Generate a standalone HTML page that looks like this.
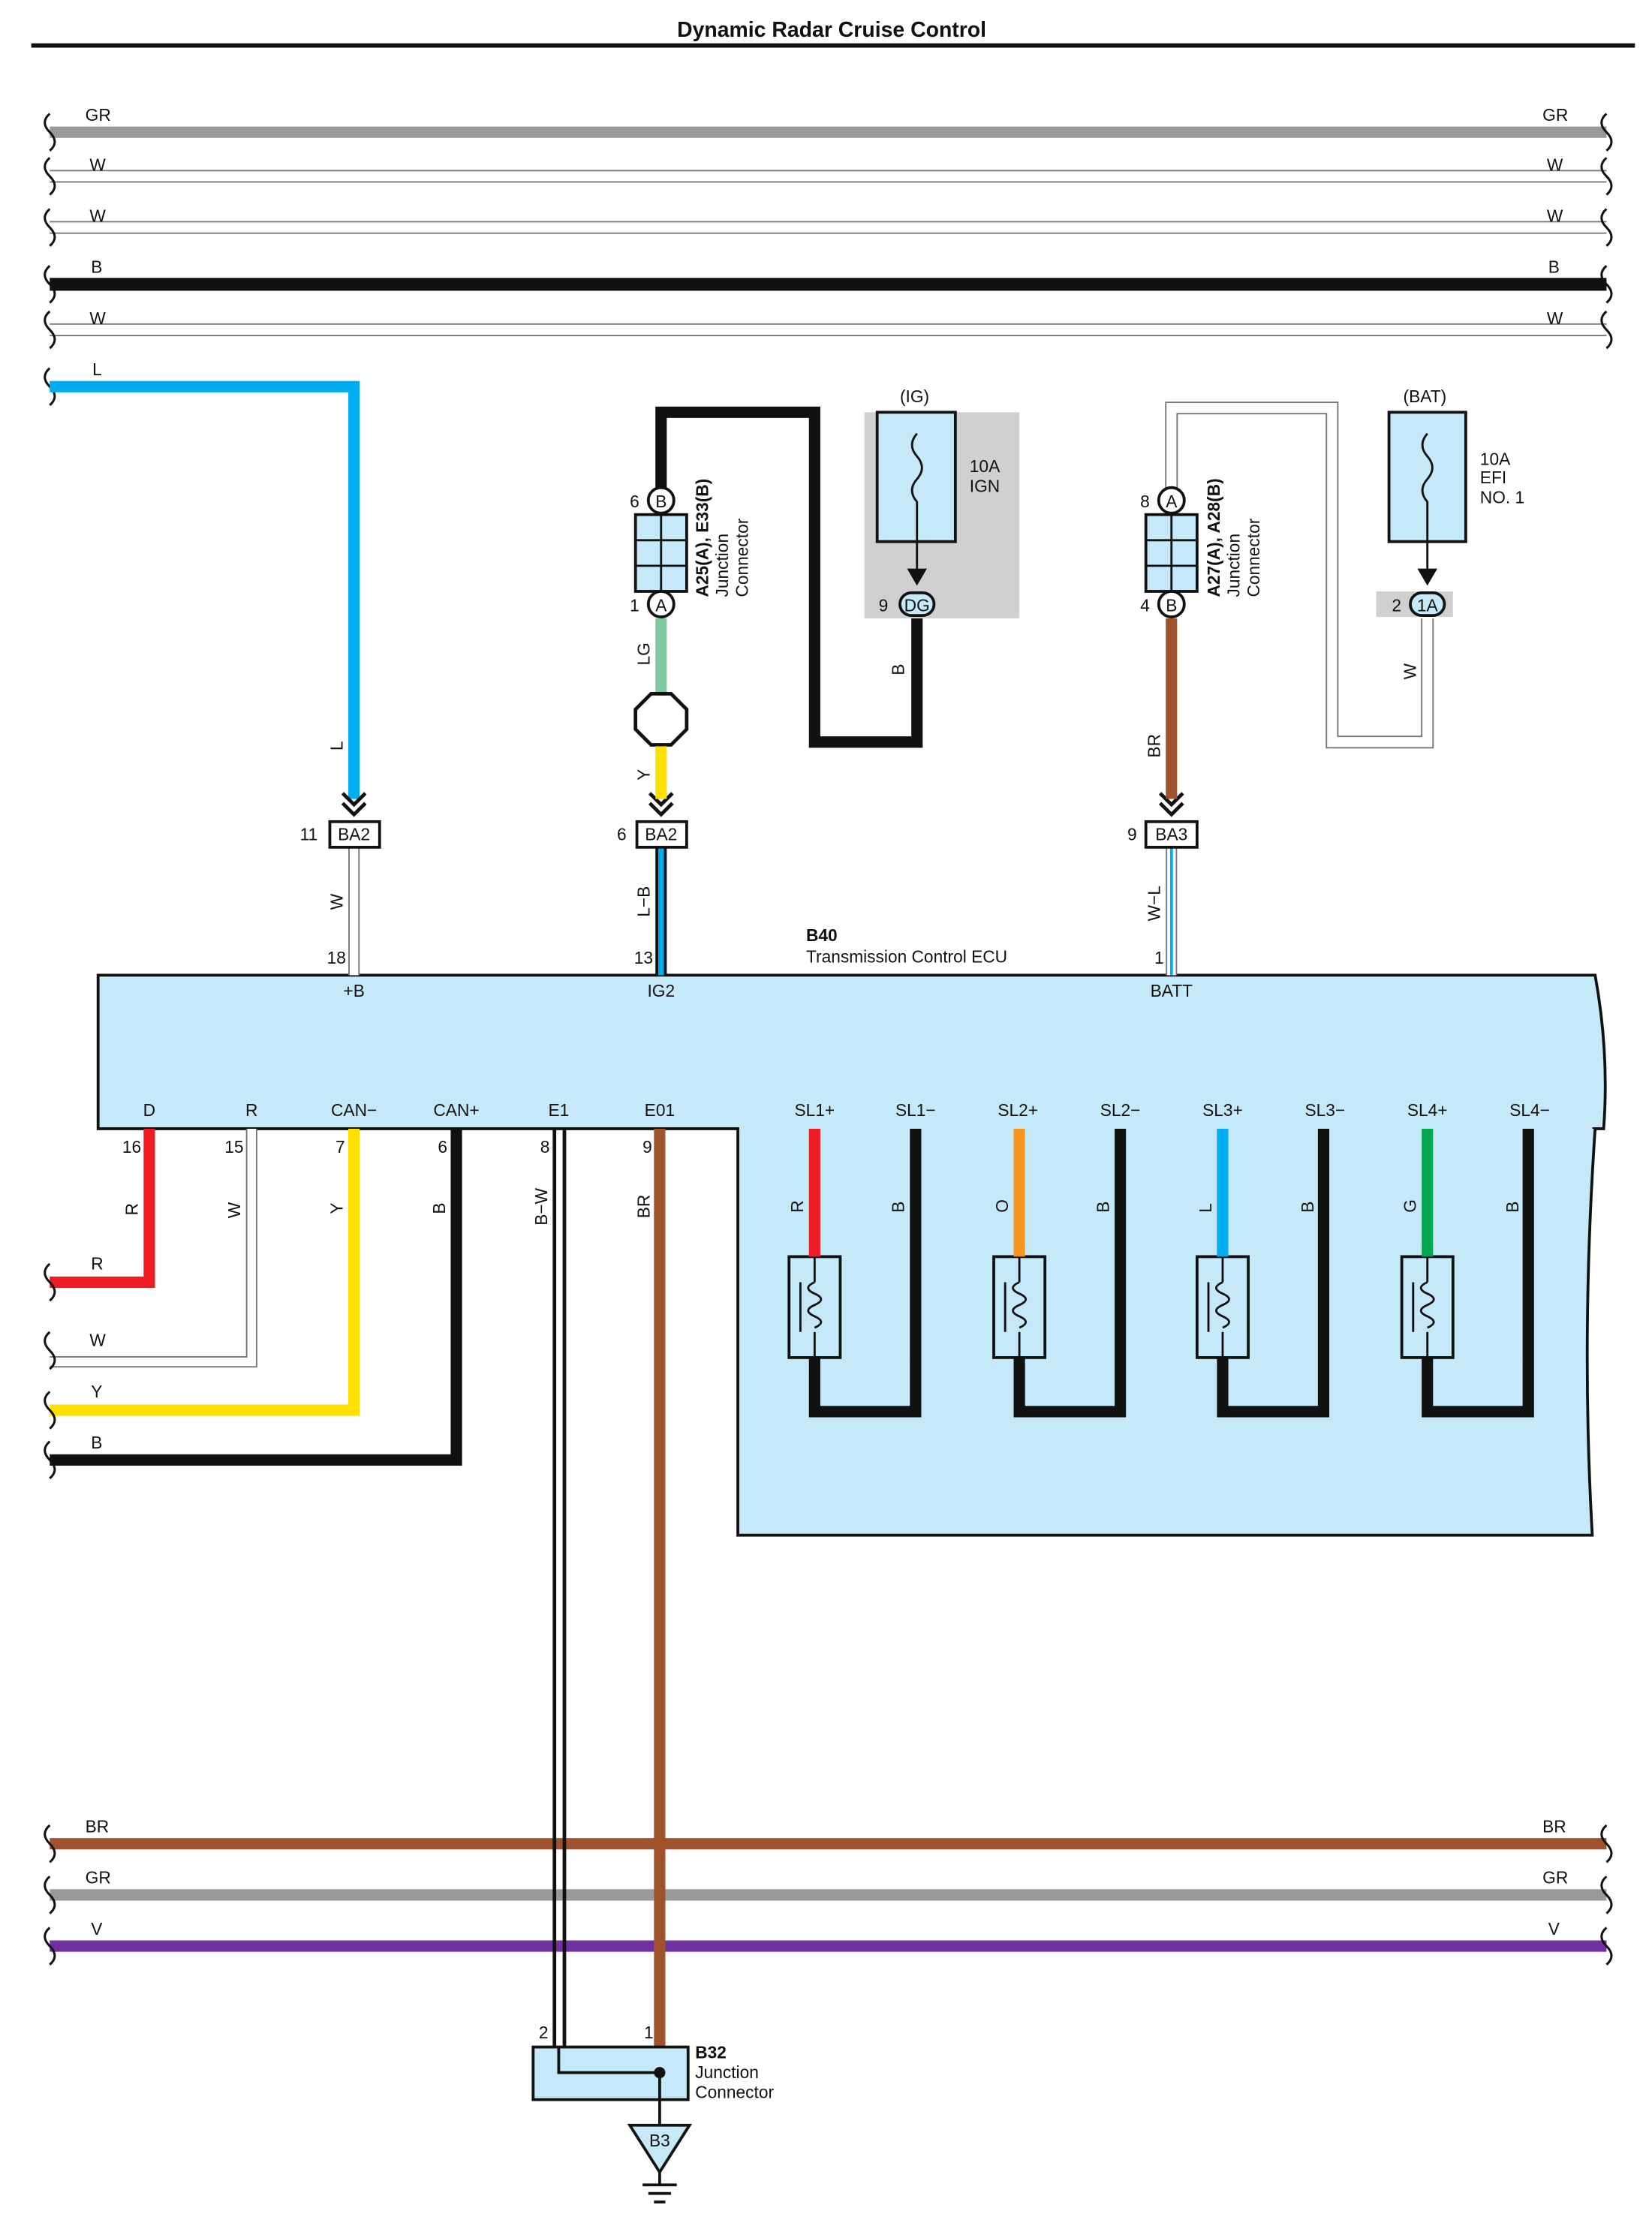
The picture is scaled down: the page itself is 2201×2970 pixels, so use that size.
<!DOCTYPE html>
<html><head><meta charset="utf-8"><style>
html,body{margin:0;padding:0;background:#fff}
svg{display:block}
text{font-family:"Liberation Sans",sans-serif;font-size:12px;fill:#111}
</style></head><body>
<svg width="2201" height="2970" viewBox="0 0 1162 1568" preserveAspectRatio="none" xmlns="http://www.w3.org/2000/svg">
<defs>
<g id="brk"><path d="M0,-13 q-7,6 0,13 q7,7 0,13" fill="none" stroke="#111" stroke-width="1.6"/></g>
</defs>
<text x="585" y="26" text-anchor="middle" style="font-size:15px;font-weight:bold">Dynamic Radar Cruise Control</text>
<line x1="22" y1="32" x2="1150" y2="32" stroke="#111" stroke-width="3"/>

<g fill="none">
<line x1="35" y1="93" x2="1130" y2="93" stroke="#999" stroke-width="8"/>
<line x1="35" y1="124" x2="1130" y2="124" stroke="#777" stroke-width="9"/><line x1="35" y1="124" x2="1130" y2="124" stroke="#fff" stroke-width="7"/>
<line x1="35" y1="160" x2="1130" y2="160" stroke="#777" stroke-width="9"/><line x1="35" y1="160" x2="1130" y2="160" stroke="#fff" stroke-width="7"/>
<line x1="35" y1="200" x2="1130" y2="200" stroke="#111" stroke-width="9"/>
<line x1="35" y1="232" x2="1130" y2="232" stroke="#777" stroke-width="9"/><line x1="35" y1="232" x2="1130" y2="232" stroke="#fff" stroke-width="7"/>
</g>
<g>
<use href="#brk" x="35" y="93"/><use href="#brk" x="1130" y="93"/>
<use href="#brk" x="35" y="124"/><use href="#brk" x="1130" y="124"/>
<use href="#brk" x="35" y="160"/><use href="#brk" x="1130" y="160"/>
<use href="#brk" x="35" y="200"/><use href="#brk" x="1130" y="200"/>
<use href="#brk" x="35" y="232"/><use href="#brk" x="1130" y="232"/>
<use href="#brk" x="35" y="272"/>
</g>
<text x="60" y="85">GR</text><text x="1085" y="85">GR</text>
<text x="63" y="120">W</text><text x="1088" y="120">W</text>
<text x="63" y="156">W</text><text x="1088" y="156">W</text>
<text x="64" y="192">B</text><text x="1089" y="192">B</text>
<text x="63" y="228">W</text><text x="1088" y="228">W</text>
<text x="65" y="264">L</text>

<path d="M35,272 H249 V562" fill="none" stroke="#00aeef" stroke-width="8"/>
<text transform="translate(241,528) rotate(-90)">L</text>

<path d="M69,686 H1122 q10,55 6,108 H69 Z" fill="#c6e9f9" stroke="#111" stroke-width="2"/>
<path d="M519,794 V1080 H1120 q-8,-140 2,-286" fill="#c6e9f9" stroke="#111" stroke-width="2"/>
<rect x="520" y="792" width="600" height="4" fill="#c6e9f9"/>
<text x="567" y="662" style="font-weight:bold">B40</text>
<text x="567" y="677">Transmission Control ECU</text>
<text x="249" y="701" text-anchor="middle">+B</text>
<text x="465" y="701" text-anchor="middle">IG2</text>
<text x="824" y="701" text-anchor="middle">BATT</text>
<g text-anchor="middle">
<text x="105" y="785">D</text><text x="177" y="785">R</text><text x="249" y="785">CAN−</text><text x="321" y="785">CAN+</text>
<text x="393" y="785">E1</text><text x="464" y="785">E01</text>
<text x="573" y="785">SL1+</text><text x="644" y="785">SL1−</text><text x="716" y="785">SL2+</text><text x="788" y="785">SL2−</text>
<text x="860" y="785">SL3+</text><text x="932" y="785">SL3−</text><text x="1004" y="785">SL4+</text><text x="1076" y="785">SL4−</text>
</g>

<line x1="249" y1="596" x2="249" y2="686" stroke="#777" stroke-width="8"/><line x1="249" y1="596" x2="249" y2="686" stroke="#fff" stroke-width="6"/>
<line x1="465" y1="596" x2="465" y2="686" stroke="#111" stroke-width="8"/><line x1="465" y1="596" x2="465" y2="686" stroke="#00aeef" stroke-width="4"/>
<line x1="824" y1="596" x2="824" y2="686" stroke="#777" stroke-width="8"/><line x1="824" y1="596" x2="824" y2="686" stroke="#fff" stroke-width="6"/><line x1="824" y1="596" x2="824" y2="686" stroke="#00aeef" stroke-width="2"/>
<text transform="translate(241,640) rotate(-90)">W</text>
<text transform="translate(457,645) rotate(-90)">L−B</text>
<text transform="translate(816,648) rotate(-90)">W−L</text>
<text x="230" y="678">18</text><text x="446" y="678">13</text><text x="812" y="678">1</text>

<g fill="#fff" stroke="#111" stroke-width="2">
<rect x="232" y="578" width="35" height="18"/><rect x="448" y="578" width="35" height="18"/><rect x="806" y="578" width="36" height="18"/>
</g>
<text x="249" y="591" text-anchor="middle">BA2</text><text x="465" y="591" text-anchor="middle">BA2</text><text x="824" y="591" text-anchor="middle">BA3</text>
<text x="211" y="591">11</text><text x="434" y="591">6</text><text x="793" y="591">9</text>
<g fill="none" stroke="#111" stroke-width="2.5">
<path d="M241,558 l8,8 l8,-8 M241,565 l8,8 l8,-8"/>
<path d="M457,558 l8,8 l8,-8 M457,565 l8,8 l8,-8"/>
<path d="M816,558 l8,8 l8,-8 M816,565 l8,8 l8,-8"/>
</g>

<rect x="608" y="290" width="109" height="145" fill="#d0d0d0"/>
<rect x="617" y="290" width="55" height="91" fill="#c6e9f9" stroke="#111" stroke-width="2"/>
<path d="M645,305 q-7,8 0,16 q7,8 0,16 q-7,8 0,16 V408" fill="none" stroke="#111" stroke-width="1.5"/>
<path d="M638,400 l7,12 l7,-12 Z" fill="#111"/>
<text x="633" y="283">(IG)</text>
<text x="682" y="332">10A</text><text x="682" y="346">IGN</text>
<path d="M465,352 V290 H573 V522 H645 V435" fill="none" stroke="#111" stroke-width="8"/>
<text transform="translate(636,475) rotate(-90)">B</text>
<rect x="633" y="417" width="24" height="16" rx="8" fill="#c6e9f9" stroke="#111" stroke-width="2"/>
<text x="645" y="430" text-anchor="middle">DG</text><text x="618" y="430">9</text>

<line x1="465" y1="435" x2="465" y2="490" stroke="#7fc8a0" stroke-width="8"/>
<text transform="translate(457,468) rotate(-90)">LG</text>
<polygon points="458,488 472,488 483,499 483,513 472,524 458,524 447,513 447,499" fill="#fff" stroke="#111" stroke-width="2.5"/>
<line x1="465" y1="525" x2="465" y2="562" stroke="#ffe000" stroke-width="8"/>
<text transform="translate(457,549) rotate(-90)">Y</text>

<rect x="447" y="362" width="36" height="54" fill="#c6e9f9" stroke="#111" stroke-width="2"/>
<g stroke="#111" stroke-width="1.5"><line x1="447" y1="380" x2="483" y2="380"/><line x1="447" y1="398" x2="483" y2="398"/><line x1="465" y1="362" x2="465" y2="416"/></g>
<circle cx="465" cy="352" r="9" fill="#fff" stroke="#111" stroke-width="2"/><text x="465" y="357" text-anchor="middle">B</text>
<circle cx="465" cy="425" r="9" fill="#fff" stroke="#111" stroke-width="2"/><text x="465" y="430" text-anchor="middle">A</text>
<text x="443" y="357">6</text><text x="443" y="430">1</text>
<text transform="translate(498,420) rotate(-90)" style="font-weight:bold">A25(A), E33(B)</text>
<text transform="translate(512,420) rotate(-90)">Junction</text>
<text transform="translate(526,420) rotate(-90)">Connector</text>

<path d="M824,352 V287 H937 V522 H1004 V435" fill="none" stroke="#777" stroke-width="9"/>
<path d="M824,352 V287 H937 V522 H1004 V435" fill="none" stroke="#fff" stroke-width="7"/>
<text transform="translate(996,478) rotate(-90)">W</text>
<rect x="968" y="416" width="54" height="18" fill="#d0d0d0"/>
<rect x="977" y="290" width="54" height="91" fill="#c6e9f9" stroke="#111" stroke-width="2"/>
<path d="M1004,305 q-7,8 0,16 q7,8 0,16 q-7,8 0,16 V408" fill="none" stroke="#111" stroke-width="1.5"/>
<path d="M997,400 l7,12 l7,-12 Z" fill="#111"/>
<text x="987" y="283">(BAT)</text>
<text x="1041" y="327">10A</text><text x="1041" y="340">EFI</text><text x="1041" y="354">NO. 1</text>
<rect x="992" y="417" width="24" height="16" rx="8" fill="#c6e9f9" stroke="#111" stroke-width="2"/>
<text x="1004" y="430" text-anchor="middle">1A</text><text x="979" y="430">2</text>

<line x1="824" y1="435" x2="824" y2="562" stroke="#a0522d" stroke-width="8"/>
<text transform="translate(816,533) rotate(-90)">BR</text>
<rect x="806" y="362" width="36" height="54" fill="#c6e9f9" stroke="#111" stroke-width="2"/>
<g stroke="#111" stroke-width="1.5"><line x1="806" y1="380" x2="842" y2="380"/><line x1="806" y1="398" x2="842" y2="398"/><line x1="824" y1="362" x2="824" y2="416"/></g>
<circle cx="824" cy="352" r="9" fill="#fff" stroke="#111" stroke-width="2"/><text x="824" y="357" text-anchor="middle">A</text>
<circle cx="824" cy="425" r="9" fill="#fff" stroke="#111" stroke-width="2"/><text x="824" y="430" text-anchor="middle">B</text>
<text x="802" y="357">8</text><text x="802" y="430">4</text>
<text transform="translate(858,420) rotate(-90)" style="font-weight:bold">A27(A), A28(B)</text>
<text transform="translate(872,420) rotate(-90)">Junction</text>
<text transform="translate(886,420) rotate(-90)">Connector</text>

<path d="M105,794 V902 H35" fill="none" stroke="#ee1c25" stroke-width="8"/>
<path d="M177,794 V958 H35" fill="none" stroke="#777" stroke-width="8"/><path d="M177,794 V958 H35" fill="none" stroke="#fff" stroke-width="6"/>
<path d="M249,794 V992 H35" fill="none" stroke="#ffe000" stroke-width="8"/>
<path d="M321,794 V1027 H35" fill="none" stroke="#111" stroke-width="8"/>
<use href="#brk" x="35" y="902"/><use href="#brk" x="35" y="950"/><use href="#brk" x="35" y="992"/><use href="#brk" x="35" y="1027"/>
<text x="64" y="893">R</text><text x="63" y="947">W</text><text x="64" y="983">Y</text><text x="64" y="1019">B</text>
<text x="86" y="811">16</text><text x="158" y="811">15</text><text x="236" y="811">7</text><text x="308" y="811">6</text><text x="380" y="811">8</text><text x="452" y="811">9</text>
<text transform="translate(97,855) rotate(-90)">R</text>
<text transform="translate(169,857) rotate(-90)">W</text>
<text transform="translate(241,854) rotate(-90)">Y</text>
<text transform="translate(313,854) rotate(-90)">B</text>
<text transform="translate(385,862) rotate(-90)">B−W</text>
<text transform="translate(457,857) rotate(-90)">BR</text>

<line x1="35" y1="1297" x2="1130" y2="1297" stroke="#a0522d" stroke-width="8"/>
<line x1="35" y1="1333" x2="1130" y2="1333" stroke="#999" stroke-width="8"/>
<line x1="35" y1="1369" x2="1130" y2="1369" stroke="#7030a0" stroke-width="8"/>
<use href="#brk" x="35" y="1297"/><use href="#brk" x="1130" y="1297"/>
<use href="#brk" x="35" y="1333"/><use href="#brk" x="1130" y="1333"/>
<use href="#brk" x="35" y="1369"/><use href="#brk" x="1130" y="1369"/>
<text x="60" y="1289">BR</text><text x="1085" y="1289">BR</text>
<text x="60" y="1325">GR</text><text x="1085" y="1325">GR</text>
<text x="64" y="1361">V</text><text x="1089" y="1361">V</text>

<line x1="390" y1="794" x2="390" y2="1440" stroke="#111" stroke-width="2.5"/>
<line x1="397" y1="794" x2="397" y2="1440" stroke="#111" stroke-width="2.5"/>
<line x1="464" y1="794" x2="464" y2="1458" stroke="#a0522d" stroke-width="8"/>
<rect x="375" y="1440" width="109" height="37" fill="#c6e9f9" stroke="#111" stroke-width="2"/>
<path d="M393,1440 V1458 H464" fill="none" stroke="#111" stroke-width="2"/>
<circle cx="464" cy="1458" r="4" fill="#111"/>
<line x1="464" y1="1458" x2="464" y2="1496" stroke="#111" stroke-width="2"/>
<text x="379" y="1434">2</text><text x="453" y="1434">1</text>
<text x="489" y="1448" style="font-weight:bold">B32</text><text x="489" y="1462">Junction</text><text x="489" y="1476">Connector</text>
<polygon points="443,1495 485,1495 464,1528" fill="#c6e9f9" stroke="#111" stroke-width="2"/>
<text x="464" y="1510" text-anchor="middle">B3</text>
<g stroke="#111" stroke-width="2"><line x1="464" y1="1528" x2="464" y2="1537"/><line x1="452" y1="1537" x2="476" y2="1537"/><line x1="456" y1="1543" x2="472" y2="1543"/><line x1="460" y1="1549" x2="468" y2="1549"/></g>

<g id="sol">
<path d="M573,955 V993 H644 V794" fill="none" stroke="#111" stroke-width="8"/>
<rect x="555" y="884" width="36" height="71" fill="#c6e9f9" stroke="#111" stroke-width="2"/>
<line x1="573" y1="884" x2="573" y2="902" stroke="#111" stroke-width="1.5"/>
<line x1="573" y1="937" x2="573" y2="955" stroke="#111" stroke-width="1.5"/>
<path d="M573,902 q-9,4 0,8 q9,4 0,8 q-9,4 0,8 q9,4 0,8" fill="none" stroke="#111" stroke-width="1.5"/>
<line x1="563" y1="902" x2="563" y2="937" stroke="#111" stroke-width="1.5"/>
</g>
<use href="#sol" x="144"/><use href="#sol" x="287"/><use href="#sol" x="431"/>
<line x1="573" y1="794" x2="573" y2="884" stroke="#ee1c25" stroke-width="8"/>
<line x1="717" y1="794" x2="717" y2="884" stroke="#f7941d" stroke-width="8"/>
<line x1="860" y1="794" x2="860" y2="884" stroke="#00aeef" stroke-width="8"/>
<line x1="1004" y1="794" x2="1004" y2="884" stroke="#00a650" stroke-width="8"/>
<text transform="translate(565,853) rotate(-90)">R</text>
<text transform="translate(636,853) rotate(-90)">B</text>
<text transform="translate(709,853) rotate(-90)">O</text>
<text transform="translate(780,853) rotate(-90)">B</text>
<text transform="translate(852,853) rotate(-90)">L</text>
<text transform="translate(924,853) rotate(-90)">B</text>
<text transform="translate(996,853) rotate(-90)">G</text>
<text transform="translate(1068,853) rotate(-90)">B</text>
</svg>
</body></html>
